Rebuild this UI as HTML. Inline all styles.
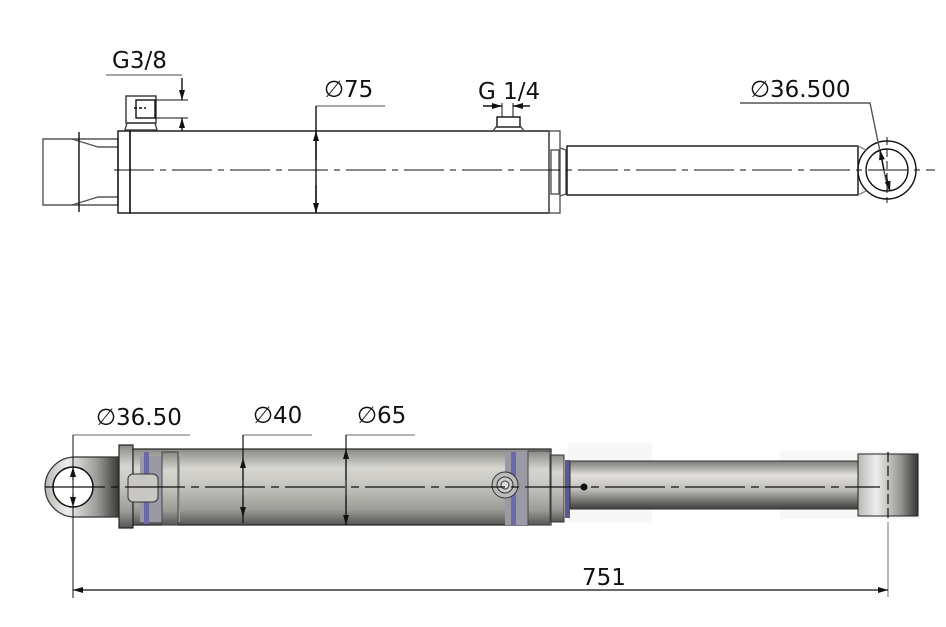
<!DOCTYPE html>
<html><head><meta charset="utf-8"><style>
html,body{margin:0;padding:0;background:#fff;width:946px;height:627px;overflow:hidden}
text{font-family:"DejaVu Sans","Liberation Sans",sans-serif;fill:#111}
</style></head><body>
<svg width="946" height="627" viewBox="0 0 946 627" xmlns="http://www.w3.org/2000/svg">
<defs>
<linearGradient id="cyl" x1="0" y1="0" x2="0" y2="1">
<stop offset="0" stop-color="#8a8a86"/><stop offset="0.25" stop-color="#d6d5d0"/><stop offset="0.45" stop-color="#c9c8c3"/><stop offset="0.8" stop-color="#9c9b96"/><stop offset="1" stop-color="#555"/></linearGradient>
<linearGradient id="rod" x1="0" y1="0" x2="0" y2="1">
<stop offset="0" stop-color="#7a7a76"/><stop offset="0.3" stop-color="#e2e1dc"/><stop offset="0.6" stop-color="#bdbcb7"/><stop offset="1" stop-color="#3e3e3c"/></linearGradient>
<linearGradient id="blk" x1="0" y1="0" x2="1" y2="0">
<stop offset="0" stop-color="#b8b7b2"/><stop offset="0.3" stop-color="#eee"/><stop offset="0.7" stop-color="#9a9995"/><stop offset="1" stop-color="#333"/></linearGradient>
<marker id="a" viewBox="0 0 10 6" refX="10" refY="3" markerWidth="10" markerHeight="6" orient="auto-start-reverse" markerUnits="userSpaceOnUse"><path d="M0,0L10,3L0,6z" fill="#111"/></marker>
</defs>
<g fill="none" stroke="#111" stroke-width="1.4">
<path d="M43,139 L118,139 L118,205 L43,205 Z" stroke="#555"/>
<path d="M98,147 L118,147 M98,197 L118,197 M72,139 L98,147 M72,205 L98,197" stroke="#555"/>
<line x1="79" y1="132" x2="79" y2="212"/>
<rect x="118" y="131" width="12" height="82"/>
<rect x="130" y="131" width="419" height="82"/>
<rect x="549" y="131" width="11" height="82" stroke="#555"/>
<rect x="551" y="150" width="8" height="44" stroke="#555"/>
<path d="M560,148 L566,150 L566,194 L560,196" stroke="#555"/>
<rect x="567" y="146" width="291" height="49"/>
<circle cx="887" cy="170" r="29"/>
<circle cx="887" cy="170" r="21"/>
<line x1="858" y1="146" x2="866" y2="150" stroke="#888"/>
<line x1="858" y1="195" x2="866" y2="191" stroke="#888"/>
<path d="M114,170 H935" stroke-dasharray="40,6,6,6" stroke-width="1"/>
<line x1="887" y1="137" x2="887" y2="203" stroke-dasharray="8,4" stroke-width="1"/>
<rect x="126" y="96" width="30" height="27" stroke="#333"/>
<rect x="136" y="100" width="19" height="18"/>
<path d="M127,123 L155,123 L157,130 L125,130 Z" stroke="#444"/>
<line x1="134" y1="108" x2="146" y2="108" stroke-dasharray="3,2"/>
<line x1="156" y1="100" x2="188" y2="100" stroke-width="1"/>
<line x1="156" y1="118" x2="188" y2="118" stroke-width="1"/>
<line x1="182" y1="78" x2="182" y2="100" marker-end="url(#a)"/>
<line x1="182" y1="131" x2="182" y2="118" marker-end="url(#a)"/>
<line x1="106" y1="75" x2="182" y2="75" stroke="#888"/>
<rect x="497" y="117" width="23" height="10"/>
<path d="M496,127 L521,127 L524,131 L493,131 Z" stroke="#444"/>
<line x1="483" y1="106" x2="502" y2="106" marker-end="url(#a)"/>
<line x1="530" y1="106" x2="513" y2="106" marker-end="url(#a)"/>
<line x1="502" y1="103" x2="502" y2="117" stroke-width="1"/>
<line x1="513" y1="103" x2="513" y2="117" stroke-width="1"/>
<line x1="316" y1="106" x2="385" y2="106" stroke="#888"/>
<line x1="316" y1="106" x2="316" y2="213"/>
<line x1="316" y1="160" x2="316" y2="131" marker-end="url(#a)"/>
<line x1="316" y1="185" x2="316" y2="213" marker-end="url(#a)"/>
<path d="M740,103 L870,103 L888,190" stroke="#555"/>
<line x1="884" y1="170" x2="880" y2="150" marker-end="url(#a)"/>
<line x1="886" y1="175" x2="890" y2="191" marker-end="url(#a)"/>
</g>
<g font-size="23">
<text x="112" y="68">G3/8</text>
<text x="324" y="97">∅75</text>
<text x="478" y="99">G 1/4</text>
<text x="750" y="97">∅36.500</text>
</g>

<rect x="568" y="443" width="84" height="80" fill="#f7f7f7"/>
<rect x="780" y="451" width="140" height="68" fill="#f7f7f7"/>
<path d="M120,457 L75,457 A30,30 0 0 0 75,517 L120,517 Z" fill="url(#blk)" stroke="#333" stroke-width="1.2"/>
<circle cx="73" cy="487" r="20" fill="#fff" stroke="#111" stroke-width="1.5"/>
<rect x="119" y="445" width="14" height="83" fill="url(#cyl)" stroke="#222" stroke-width="1.2"/>
<rect x="133" y="449" width="418" height="76" fill="url(#cyl)" stroke="#222" stroke-width="1.2"/>
<rect x="140" y="456" width="40" height="66" fill="#9b9aa4"/>
<rect x="144" y="452" width="5" height="72" fill="#6a6aa8"/>
<rect x="162" y="452" width="16" height="73" fill="url(#cyl)" stroke="#444"/>
<rect x="128" y="474" width="30" height="28" rx="5" fill="#c8c7c2" stroke="#333"/>
<rect x="505" y="452" width="46" height="73" fill="#9b9aa4"/>
<rect x="511" y="452" width="5" height="73" fill="#6a6aa8"/>
<rect x="528" y="451" width="22" height="74" fill="url(#cyl)" stroke="#444"/>
<rect x="551" y="455" width="13" height="67" fill="url(#cyl)" stroke="#333"/>
<circle cx="505" cy="485" r="13" fill="#bbb" stroke="#333"/>
<circle cx="505" cy="485" r="8" fill="#ccc" stroke="#333"/>
<circle cx="505" cy="485" r="4" fill="#ddd" stroke="#333"/>
<rect x="565" y="460" width="5" height="58" fill="#5a5a90"/>
<rect x="570" y="461" width="292" height="48" fill="url(#rod)" stroke="#333"/>
<rect x="858" y="454" width="60" height="62" fill="url(#blk)" stroke="#222"/>
<circle cx="584" cy="487" r="3.5" fill="#111"/>
<g fill="none" stroke="#111" stroke-width="1.2">
<path d="M45,487 H880" stroke-dasharray="60,6,8,6"/>
<line x1="888" y1="452" x2="888" y2="518" stroke-dasharray="10,4"/>
<line x1="73" y1="480" x2="73" y2="467" marker-end="url(#a)"/>
<line x1="73" y1="494" x2="73" y2="507" marker-end="url(#a)"/>
<line x1="73" y1="435" x2="190" y2="435" stroke="#888"/>
<line x1="73" y1="435" x2="73" y2="598" stroke-width="1"/>
<line x1="243" y1="435" x2="312" y2="435" stroke="#888"/>
<line x1="243" y1="435" x2="243" y2="523"/>
<line x1="243" y1="480" x2="243" y2="458" marker-end="url(#a)"/>
<line x1="243" y1="495" x2="243" y2="517" marker-end="url(#a)"/>
<line x1="346" y1="435" x2="415" y2="435" stroke="#888"/>
<line x1="346" y1="435" x2="346" y2="525"/>
<line x1="346" y1="480" x2="346" y2="449" marker-end="url(#a)"/>
<line x1="346" y1="495" x2="346" y2="525" marker-end="url(#a)"/>
<line x1="888" y1="522" x2="888" y2="597" stroke="#888"/>
<line x1="480" y1="590" x2="73" y2="590" marker-end="url(#a)"/>
<line x1="480" y1="590" x2="888" y2="590" marker-end="url(#a)"/>
</g>
<g font-size="23">
<text x="96" y="425">∅36.50</text>
<text x="253" y="423">∅40</text>
<text x="357" y="423">∅65</text>
<text x="582" y="585">751</text>
</g>
</svg>
</body></html>
